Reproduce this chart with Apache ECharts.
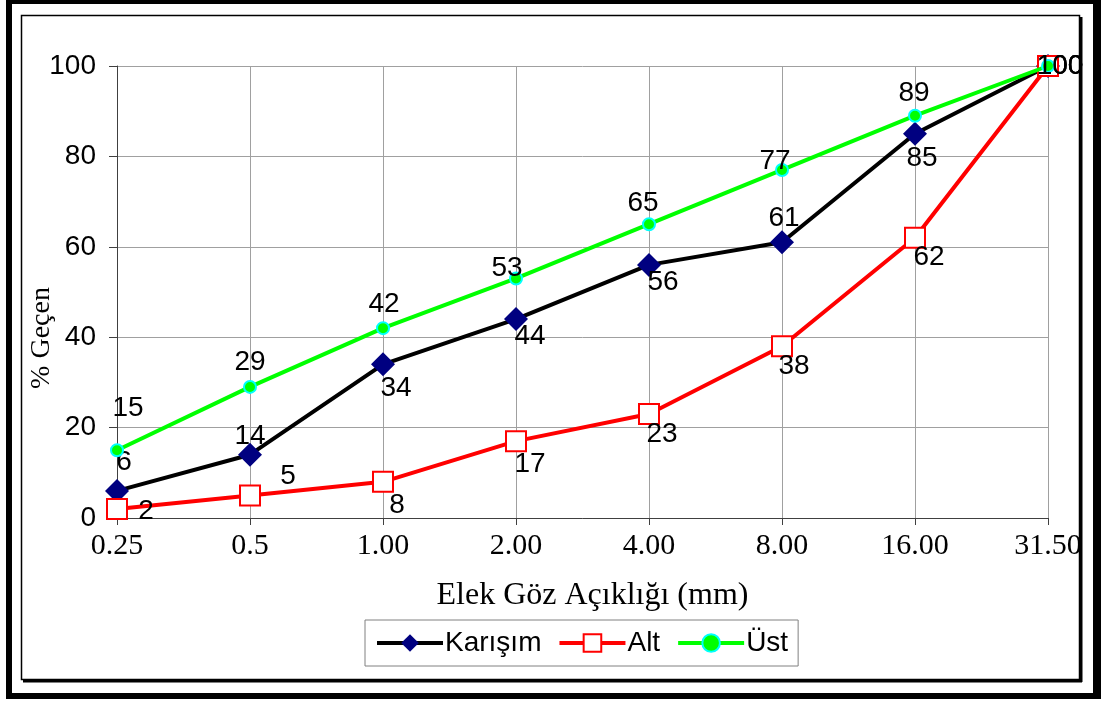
<!DOCTYPE html>
<html>
<head>
<meta charset="utf-8">
<script src="https://cdn.jsdelivr.net/npm/echarts@6/dist/echarts.min.js"></script>
<style>
  html, body { margin: 0; padding: 0; background: #fff; }
  #chart { width: 1101px; height: 702px; }
</style>
</head>
<body>
<div id="chart"></div>
<script>
// Sieve sizes (mm) on the category axis
const sieveSizes = ['0.25', '0.5', '1.00', '2.00', '4.00', '8.00', '16.00', '31.50'];

// Percentage passing for the blend and the lower / upper grading limits
const karisim = [6, 14, 34, 44, 56, 61, 85, 100];
const alt     = [2, 5, 8, 17, 23, 38, 62, 100];
const ust     = [15, 29, 42, 53, 65, 77, 89, 100];

// Y axis tick range
const yMin = 0, yMax = 100, yStep = 20;

// Where each value label sits relative to its point (px)
const karisimLabelShift = [[7,-29],[0,-18],[13,24],[14,17],[14,17],[2,-24],[7,24],[12,0]];
const altLabelShift     = [[29,2],[38,-19],[14,23],[14,23],[13,20],[12,20],[14,20],[12,0]];
const ustLabelShift     = [[11,-42],[0,-25],[1,-24],[-9,-10],[-6,-21],[-7,-9],[-1,-22],[12,0]];

const SANS = "'Liberation Sans', Arial, sans-serif";
const SERIF = "'Liberation Serif', 'Times New Roman', serif";

function withLabels(values, shifts) {
  return values.map((v, i) => ({
    value: v,
    label: { offset: shifts[i] }
  }));
}

const labelStyle = {
  show: true,
  position: 'inside',
  align: 'center',
  verticalAlign: 'middle',
  color: '#000',
  fontFamily: SANS,
  fontSize: 28
};

const chart = echarts.init(document.getElementById('chart'), null, { renderer: 'canvas' });

chart.setOption({
  backgroundColor: '#fff',
  animation: false,
  graphic: [
    // outer heavy frame
    { type: 'rect', shape: { x: 6, y: 0, width: 1087, height: 4 }, style: { fill: '#000' }, silent: true },
    { type: 'rect', shape: { x: 6, y: 0, width: 6, height: 699 }, style: { fill: '#000' }, silent: true },
    { type: 'rect', shape: { x: 6, y: 693, width: 1095, height: 6 }, style: { fill: '#000' }, silent: true },
    { type: 'rect', shape: { x: 1093, y: 0, width: 8, height: 699 }, style: { fill: '#000' }, silent: true },
    // inner thin frame with drop shadow on right and bottom
    { type: 'rect', shape: { x: 21.5, y: 15.5, width: 1058, height: 664 }, style: { fill: null, stroke: '#000', lineWidth: 1.5 }, silent: true },
    { type: 'rect', shape: { x: 1080, y: 17, width: 2.5, height: 665 }, style: { fill: '#000' }, silent: true },
    { type: 'rect', shape: { x: 23, y: 680, width: 1059, height: 2.5 }, style: { fill: '#000' }, silent: true },
    // y axis title
    {
      type: 'text',
      x: 42, y: 338,
      rotation: Math.PI / 2,
      style: {
        text: '% Geçen',
        fontFamily: SERIF, fontSize: 28, fill: '#000',
        align: 'center', verticalAlign: 'middle'
      },
      silent: true
    }
  ],
  grid: { left: 117, right: 53, top: 66, bottom: 184, containLabel: false },
  legend: {
    left: 365,
    top: 620,
    orient: 'horizontal',
    padding: [9, 10, 9, 10],
    itemGap: 16,
    itemWidth: 66,
    itemHeight: 22,
    borderColor: '#808080',
    borderWidth: 1,
    lineStyle: { width: 4 },
    textStyle: { fontFamily: SANS, fontSize: 28, color: '#000', padding: [0, 0, 0, -3] },
    data: ['Karışım', 'Alt', 'Üst']
  },
  xAxis: {
    type: 'category',
    data: sieveSizes,
    boundaryGap: false,
    name: 'Elek Göz Açıklığı (mm)',
    nameLocation: 'middle',
    nameGap: 62,
    nameTextStyle: { fontFamily: SERIF, fontSize: 32, color: '#000', padding: [0, 0, 0, 20] },
    axisLine: { lineStyle: { color: '#404040', width: 1 } },
    axisTick: { show: true, alignWithLabel: true, length: 7, lineStyle: { color: '#404040' } },
    axisLabel: { fontFamily: SERIF, fontSize: 30, color: '#000', margin: 13 },
    splitLine: { show: true, lineStyle: { color: '#a0a0a0', width: 1 } }
  },
  yAxis: {
    type: 'value',
    min: yMin,
    max: yMax,
    interval: yStep,
    axisLine: { show: true, lineStyle: { color: '#404040', width: 1 } },
    axisTick: { show: true, length: 8, lineStyle: { color: '#404040' } },
    axisLabel: { fontFamily: SANS, fontSize: 28, color: '#000', margin: 21 },
    splitLine: { show: true, lineStyle: { color: '#a0a0a0', width: 1 } }
  },
  series: [
    {
      name: 'Karışım',
      type: 'line',
      data: withLabels(karisim, karisimLabelShift),
      symbol: 'diamond',
      symbolSize: 24,
      lineStyle: { color: '#000', width: 4 },
      itemStyle: { color: '#000080', borderColor: '#000080', borderWidth: 0 },
      label: labelStyle,
      z: 2
    },
    {
      name: 'Alt',
      type: 'line',
      data: withLabels(alt, altLabelShift),
      symbol: 'rect',
      symbolSize: 20,
      lineStyle: { color: '#ff0000', width: 4 },
      itemStyle: { color: '#ffffff', borderColor: '#ff0000', borderWidth: 2 },
      label: labelStyle,
      z: 3
    },
    {
      name: 'Üst',
      type: 'line',
      data: withLabels(ust, ustLabelShift),
      symbol: 'circle',
      symbolSize: 12,
      lineStyle: { color: '#00ff00', width: 4 },
      itemStyle: { color: '#00ff00', borderColor: '#00ffff', borderWidth: 2 },
      label: labelStyle,
      z: 4
    }
  ]
});
</script>
</body>
</html>
